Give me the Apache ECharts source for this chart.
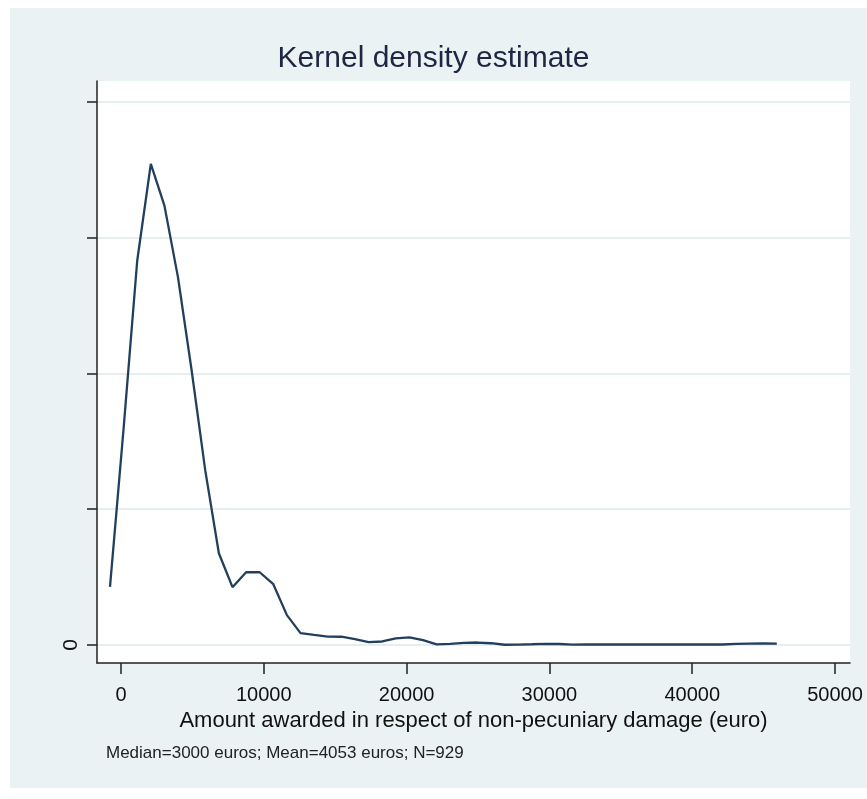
<!DOCTYPE html>
<html>
<head>
<meta charset="utf-8">
<script src="https://cdn.jsdelivr.net/npm/echarts@6/dist/echarts.min.js"></script>
<style>
html,body{margin:0;padding:0;background:#ffffff;}
#chart{width:867px;height:799px;}
</style>
</head>
<body>
<div id="chart"></div>
<script>
// Evaluation points of the kernel density (euro)
const xPoints = [-770, 183, 1136, 2089, 3042, 3995, 4948, 5901, 6854, 7807,
  8760, 9713, 10666, 11619, 12572, 13525, 14478, 15431, 16384, 17337,
  18290, 19243, 20196, 21149, 22102, 23055, 24008, 24961, 25914, 26867,
  27820, 28773, 29726, 30679, 31632, 32585, 33538, 34491, 35444, 36397,
  37350, 38303, 39256, 40209, 41162, 42115, 43068, 44021, 44974, 45927];
// Estimated density values
const densityValues = [2.14e-5, 7.98e-5, 1.415e-4, 1.772e-4, 1.618e-4, 1.353e-4, 1.011e-4, 6.43e-5, 3.38e-5, 2.13e-5,
  2.68e-5, 2.68e-5, 2.24e-5, 1.10e-5, 4.4e-6, 3.7e-6, 3.1e-6, 3.05e-6, 2.2e-6, 1.1e-6,
  1.3e-6, 2.46e-6, 2.83e-6, 1.8e-6, 2.6e-7, 4.4e-7, 8.1e-7, 9.2e-7, 6.6e-7, 1.0e-7,
  1.8e-7, 2.9e-7, 4.4e-7, 3.7e-7, 1.8e-7, 2.0e-7, 2.0e-7, 2.0e-7, 2.0e-7, 2.0e-7,
  2.0e-7, 2.0e-7, 2.0e-7, 2.0e-7, 2.0e-7, 2.0e-7, 4.4e-7, 5.5e-7, 6.2e-7, 5.5e-7];
const xTicks = [0, 10000, 20000, 30000, 40000, 50000];
const xTickLabels = ['0', '10000', '20000', '30000', '40000', '50000'];
const yTicks = [0, 5e-5, 1e-4, 1.5e-4, 2e-4];
const yTickLabels = ['0', '', '', '', ''];
const titleText = 'Kernel density estimate';
const xTitle = 'Amount awarded in respect of non-pecuniary damage (euro)';
const noteText = 'Median=3000 euros; Mean=4053 euros; N=929';

const chart = echarts.init(document.getElementById('chart'), null, {renderer: 'canvas'});
const font = 'Liberation Sans, Arial, sans-serif';
const seriesData = xPoints.map((x, i) => [x, densityValues[i]]);

chart.setOption({
  animation: false,
  backgroundColor: '#ffffff',
  graphic: [{
    type: 'rect', z: -10, silent: true,
    shape: {x: 10, y: 8, width: 857, height: 780},
    style: {fill: '#eaf2f3'}
  }],
  title: [{
    text: titleText,
    left: 'center', top: 39,
    textStyle: {fontFamily: font, fontSize: 30, fontWeight: 'normal', color: '#1e2742'}
  }, {
    text: noteText,
    left: 101, top: 740,
    textStyle: {fontFamily: font, fontSize: 17, fontWeight: 'normal', color: '#222222'}
  }],
  grid: {
    left: 97, right: 17, top: 81, bottom: 136,
    show: true, backgroundColor: '#ffffff', borderWidth: 0
  },
  xAxis: {
    type: 'value',
    min: -1680, max: 51050,
    name: xTitle,
    nameLocation: 'middle',
    nameGap: 40,
    nameTextStyle: {fontFamily: font, fontSize: 22, color: '#111111'},
    axisLine: {show: true, onZero: false, lineStyle: {color: '#222222', width: 1.5}},
    axisTick: {show: true, length: 11, customValues: xTicks, lineStyle: {color: '#222222', width: 1.5}},
    axisLabel: {
      customValues: xTicks,
      margin: 22,
      fontFamily: font, fontSize: 20, color: '#111111',
      formatter: v => xTickLabels[xTicks.indexOf(v)]
    },
    splitLine: {show: false}
  },
  yAxis: {
    type: 'value',
    min: -6.62e-6, max: 2.077e-4,
    axisLine: {show: true, onZero: false, lineStyle: {color: '#222222', width: 1.5}},
    axisTick: {show: true, length: 10, customValues: yTicks, lineStyle: {color: '#222222', width: 1.5}},
    axisLabel: {
      customValues: yTicks,
      rotate: 90,
      margin: 15,
      fontFamily: font, fontSize: 21, color: '#111111',
      formatter: v => {
        const i = yTicks.findIndex(t => Math.abs(t - v) < 1e-9);
        return i >= 0 ? yTickLabels[i] : '';
      }
    },
    splitLine: {show: true, lineStyle: {color: '#e6eef0', width: 2}}
  },
  series: [{
    type: 'line',
    data: seriesData,
    showSymbol: false,
    smooth: false,
    lineStyle: {color: '#22405e', width: 2.3},
    z: 3
  }]
});
</script>
</body>
</html>
